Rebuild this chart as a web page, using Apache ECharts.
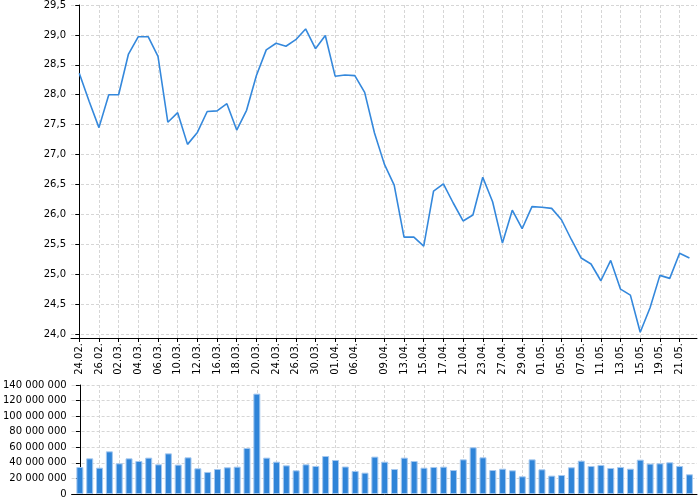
<!DOCTYPE html>
<html>
<head>
<meta charset="utf-8">
<script src="https://cdn.jsdelivr.net/npm/echarts@6/dist/echarts.min.js"></script>
<style>html,body{margin:0;padding:0;background:#fff}#c{width:700px;height:500px}</style>
</head>
<body>
<div id="c"></div>
<script>
const dates = ["24.02.","25.02.","26.02.","27.02.","02.03.","03.03.","04.03.","05.03.","06.03.","09.03.",
"10.03.","11.03.","12.03.","13.03.","16.03.","17.03.","18.03.","19.03.","20.03.","23.03.",
"24.03.","25.03.","26.03.","27.03.","30.03.","31.03.","01.04.","02.04.","06.04.","07.04.",
"08.04.","09.04.","10.04.","13.04.","14.04.","15.04.","16.04.","17.04.","20.04.","21.04.",
"22.04.","23.04.","24.04.","27.04.","28.04.","29.04.","30.04.","01.05.","04.05.","05.05.",
"06.05.","07.05.","08.05.","11.05.","12.05.","13.05.","14.05.","15.05.","18.05.","19.05.",
"20.05.","21.05.","22.05."];
const tickLabels = ["24.02.","26.02.","02.03.","04.03.","06.03.","10.03.","12.03.","16.03.","18.03.","20.03.",
"24.03.","26.03.","30.03.","01.04.","06.04.","09.04.","13.04.","15.04.","17.04.","21.04.",
"23.04.","27.04.","29.04.","01.05.","05.05.","07.05.","11.05.","13.05.","15.05.","19.05.","21.05."];
const prices = [28.36,27.89,27.45,28.00,28.00,28.68,28.97,28.97,28.64,27.54,
27.70,27.17,27.37,27.72,27.73,27.85,27.41,27.74,28.32,28.75,
28.86,28.81,28.92,29.10,28.77,28.99,28.31,28.33,28.32,28.04,
27.36,26.84,26.49,25.62,25.62,25.47,26.39,26.51,26.19,25.89,
25.99,26.62,26.21,25.52,26.07,25.76,26.13,26.12,26.10,25.91,
25.58,25.27,25.17,24.89,25.23,24.75,24.65,24.03,24.44,24.98,
24.93,25.35,25.27];
const volumesM = [34.7,45.8,33.8,54.8,39.4,45.8,42.4,46.7,38.1,52.2,
37.7,47.1,33.0,28.3,32.1,34.3,35.1,59.1,128.9,46.7,
41.5,36.8,30.4,38.1,36.0,48.8,43.7,35.3,29.6,27.4,
48.0,41.5,32.1,46.7,42.4,33.8,34.7,35.1,30.8,44.5,
60.0,47.1,30.8,32.5,30.4,22.7,44.5,31.7,23.6,24.4,
34.3,42.8,36.0,37.3,33.4,34.7,32.5,44.1,39.0,39.4,
40.7,36.0,25.3];
const priceTicks = [24,24.5,25,25.5,26,26.5,27,27.5,28,28.5,29,29.5];
const volTicks = [0,20e6,40e6,60e6,80e6,100e6,120e6,140e6];

const tickIdx = tickLabels.map(l => dates.indexOf(l));
const font = 'DejaVu Sans';
const grid = {type:[3,2], color:'#d6d6d6', width:1};
const fmtVol = v => String(Math.round(v)).replace(/\B(?=(\d{3})+(?!\d))/g, ' ');

const chart = echarts.init(document.getElementById('c'), null, {renderer:'canvas'});
chart.setOption({
  animation:false,
  backgroundColor:'#fff',
  grid:[
    {left:71, right:3, top:4, height:334},
    {left:71, right:3, top:385, height:109}
  ],
  xAxis:[
    {type:'value', gridIndex:0, min:-0.84, max:62.77,
     axisLine:{show:true, lineStyle:{color:'#000', width:1}},
     axisTick:{show:true, length:4, customValues:tickIdx, lineStyle:{color:'#000'}},
     axisLabel:{show:true, customValues:tickIdx, rotate:90, margin:5, color:'#000', fontFamily:font, fontSize:10,
       formatter: v => dates[Math.round(v)]},
     splitLine:{show:true, lineStyle:grid}},
    {type:'value', gridIndex:1, min:-0.84, max:62.77,
     axisLine:{show:true, lineStyle:{color:'#000', width:1}},
     axisTick:{show:false, customValues:tickIdx},
     axisLabel:{show:false, customValues:tickIdx},
     splitLine:{show:true, lineStyle:grid}}
  ],
  yAxis:[
    {type:'value', gridIndex:0, min:24 - 4/60, max:29.5,
     axisLine:{show:true, lineStyle:{color:'#000', width:1}},
     axisTick:{show:true, length:4, customValues:priceTicks, lineStyle:{color:'#000'}},
     axisLabel:{customValues:priceTicks, margin:5, color:'#000', fontFamily:font, fontSize:10,
       formatter: v => v.toFixed(1).replace('.', ',')},
     splitLine:{show:true, lineStyle:grid}},
    {type:'value', gridIndex:1, min:0, max:140e6, interval:20e6,
     axisLine:{show:true, lineStyle:{color:'#000', width:1}},
     axisTick:{show:true, length:4, lineStyle:{color:'#000'}},
     axisLabel:{margin:5, color:'#000', fontFamily:font, fontSize:10, formatter: fmtVol},
     splitLine:{show:true, lineStyle:grid}}
  ],
  series:[
    {type:'line', xAxisIndex:0, yAxisIndex:0, showSymbol:false, symbol:'none',
     lineStyle:{color:'#3488dc', width:1.6},
     data: prices.map((p,i) => [i,p])},
    {type:'bar', xAxisIndex:1, yAxisIndex:1, barWidth:7,
     itemStyle:{color:'#2f84d8', borderColor:'#a5c8ef', borderWidth:1},
     data: volumesM.map((v,i) => [i, v*1e6])}
  ]
});
</script>
</body>
</html>
